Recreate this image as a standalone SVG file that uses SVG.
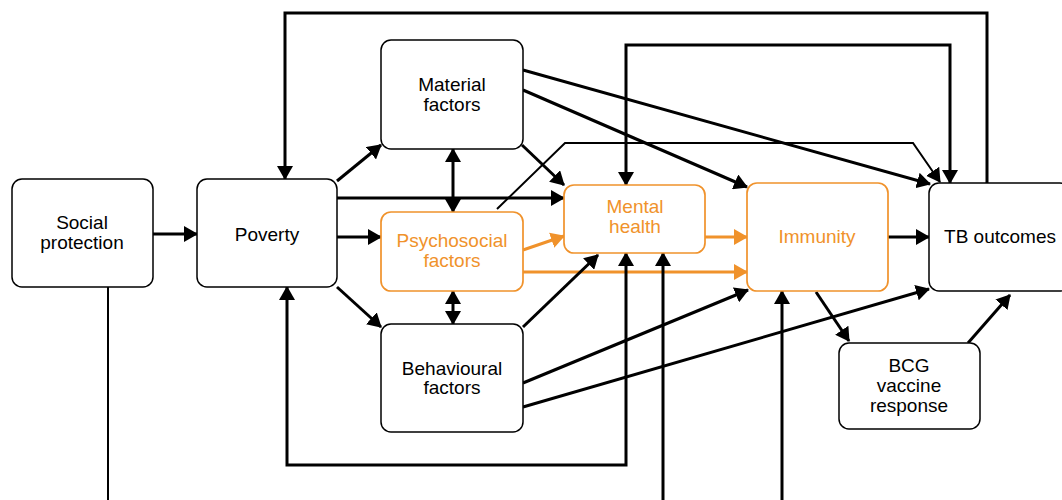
<svg xmlns="http://www.w3.org/2000/svg" width="1062" height="500" viewBox="0 0 1062 500">
<style>
.box{fill:#fff;stroke:#000;stroke-width:1.5}
.obox{fill:#fff;stroke:#F0922B;stroke-width:1.7}
text{font-family:"Liberation Sans",Arial,sans-serif;font-size:19px;text-anchor:middle;fill:#000}
.ot{fill:#F0922B}
.c{fill:none;stroke:#000;stroke-width:3}
.ct{fill:none;stroke:#000;stroke-width:2}
.co{fill:none;stroke:#F0922B;stroke-width:3}
</style>
<defs>
<marker id="ah" markerUnits="userSpaceOnUse" markerWidth="14" markerHeight="16" refX="13" refY="8" orient="auto-start-reverse" viewBox="0 0 14 16"><path d="M0,0 L14,8 L0,16 z" fill="#000"/></marker>
<marker id="aho" markerUnits="userSpaceOnUse" markerWidth="14" markerHeight="16" refX="13" refY="8" orient="auto-start-reverse" viewBox="0 0 14 16"><path d="M0,0 L14,8 L0,16 z" fill="#F0922B"/></marker>
</defs>
<rect width="1062" height="500" fill="#fff"/>
<g id="connectors">
<path class="ct" d="M108,287 V500"/>
<path class="c" d="M153,234 H197" marker-end="url(#ah)"/>
<path class="c" d="M987,183 V13 H285 V179" marker-end="url(#ah)"/>
<path class="c" d="M626,185 V45 H950 V183" marker-start="url(#ah)" marker-end="url(#ah)"/>
<path class="ct" d="M497,209 L565,143 H913 L940,182" marker-end="url(#ah)"/>
<path class="c" d="M523,70 L930,184" marker-end="url(#ah)"/>
<path class="c" d="M523,90 L747,187" marker-end="url(#ah)"/>
<path class="c" d="M522,145 L564,185" marker-end="url(#ah)"/>
<path class="c" d="M337,181 L381,145" marker-end="url(#ah)"/>
<path class="c" d="M337,198 H564" marker-end="url(#ah)"/>
<path class="c" d="M337,237 H381" marker-end="url(#ah)"/>
<path class="c" d="M337,287 L381,327" marker-end="url(#ah)"/>
<path class="c" d="M453,149 V212" marker-start="url(#ah)" marker-end="url(#ah)"/>
<path class="c" d="M453,291 V324" marker-start="url(#ah)" marker-end="url(#ah)"/>
<path class="co" d="M523,250 L564,236" marker-end="url(#aho)"/>
<path class="co" d="M523,272 H747" marker-end="url(#aho)"/>
<path class="co" d="M705,237 H747" marker-end="url(#aho)"/>
<path class="c" d="M888,237 H929" marker-end="url(#ah)"/>
<path class="c" d="M523,327 L598,255" marker-end="url(#ah)"/>
<path class="c" d="M523,383 L748,290" marker-end="url(#ah)"/>
<path class="c" d="M523,407 L929,289" marker-end="url(#ah)"/>
<path class="c" d="M816,292 L849,341" marker-end="url(#ah)"/>
<path class="c" d="M968,343 L1010,295" marker-end="url(#ah)"/>
<path class="c" d="M626,253 V465 H287 V287" marker-start="url(#ah)" marker-end="url(#ah)"/>
<path class="c" d="M663,500 V253" marker-end="url(#ah)"/>
<path class="c" d="M782,500 V291" marker-end="url(#ah)"/>
</g>
<g id="social-protection"><rect class="box" x="12" y="179" width="141" height="108" rx="10"/><text x="82" y="229">Social</text><text x="82" y="249">protection</text></g>
<g id="poverty"><rect class="box" x="197" y="179" width="140" height="108" rx="10"/><text x="267" y="241">Poverty</text></g>
<g id="material"><rect class="box" x="381" y="40" width="142" height="109" rx="10"/><text x="452" y="91">Material</text><text x="452" y="111">factors</text></g>
<g id="psychosocial"><rect class="obox" x="381" y="212" width="142" height="79" rx="10"/><text class="ot" x="452" y="247">Psychosocial</text><text class="ot" x="452" y="267">factors</text></g>
<g id="behavioural"><rect class="box" x="381" y="324" width="142" height="108" rx="10"/><text x="452" y="375">Behavioural</text><text x="452" y="394">factors</text></g>
<g id="mental-health"><rect class="obox" x="564" y="185" width="141" height="68" rx="10"/><text class="ot" x="635" y="213">Mental</text><text class="ot" x="635" y="233">health</text></g>
<g id="immunity"><rect class="obox" x="747" y="183" width="141" height="108" rx="10"/><text class="ot" x="817" y="243">Immunity</text></g>
<g id="tb-outcomes"><rect class="box" x="929" y="183" width="141" height="108" rx="10"/><text x="1000" y="243">TB outcomes</text></g>
<g id="bcg"><rect class="box" x="839" y="343" width="141" height="86" rx="10"/><text x="909" y="372">BCG</text><text x="909" y="392">vaccine</text><text x="909" y="412">response</text></g>
</svg>
